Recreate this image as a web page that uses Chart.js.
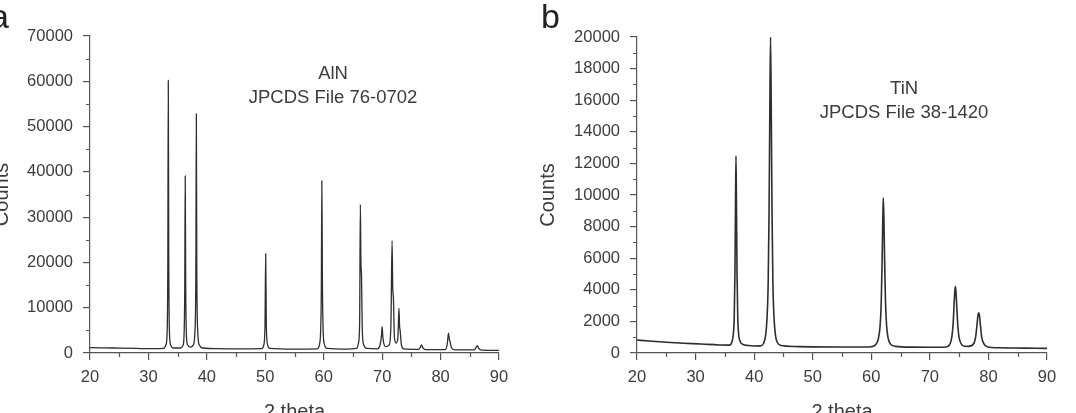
<!DOCTYPE html>
<html lang="en">
<head>
  <meta charset="UTF-8">
  <title>XRD AlN / TiN</title>
  <script src="https://cdn.jsdelivr.net/npm/chart.js"></script>
  <style>
    html, body {
      margin: 0;
      padding: 0;
      width: 1076px;
      height: 413px;
      overflow: hidden;
      background: #fff;
    }
    .panel {
      position: absolute;
      top: 0;
    }
    #leftPanel { left: -10px; }
    #rightPanel { left: 536px; }
  </style>
</head>
<body>
<div class="panel" id="leftPanel"><canvas id="alnChart" width="548" height="424"></canvas></div>
<div class="panel" id="rightPanel"><canvas id="tinChart" width="540" height="424"></canvas></div>

<script>
  // values
  const xTicks = [20, 30, 40, 50, 60, 70, 80, 90];
  const xMinorTicks = [25, 35, 45, 55, 65, 75, 85];
  const alnYTicks = [0, 10000, 20000, 30000, 40000, 50000, 60000, 70000];
  const alnYMinor = [5000, 15000, 25000, 35000, 45000, 55000, 65000];
  const tinYTicks = [0, 2000, 4000, 6000, 8000, 10000, 12000, 14000, 16000, 18000, 20000];
  const tinYMinor = [1000, 3000, 5000, 7000, 9000, 11000, 13000, 15000, 17000, 19000];

  // AlN pattern (2 theta / counts)
  const alnTheta = [
    20, 24, 28, 31, 32.6,
    33.0, 33.2, 33.32, 33.4, 33.48, 33.6, 33.8, 34.3,
    35.5, 35.9, 36.1, 36.22, 36.3, 36.38, 36.5, 36.7, 37.2,
    37.7, 37.95, 38.12, 38.2, 38.28, 38.45, 38.7, 39.3,
    42, 46,
    49.4, 49.75, 49.95, 50.07, 50.18, 50.4, 50.8,
    55,
    58.9, 59.3, 59.5, 59.6, 59.68, 59.78, 59.9, 60.1, 60.6,
    64,
    65.6, 65.95, 66.15, 66.27, 66.37, 66.47, 66.6, 66.85, 67.4,
    69.2, 69.65, 69.9, 70.0, 70.12, 70.3, 70.6,
    71.2, 71.5, 71.7, 71.82, 71.92, 72.1, 72.4,
    72.7, 72.88, 72.98, 73.08, 73.3, 73.7,
    76.2, 76.55, 76.75, 76.95, 77.4,
    80.8, 81.15, 81.35, 81.5, 81.6, 81.85, 82.4,
    85.8, 86.1, 86.3, 86.55, 87.0, 90
  ];
  const alnCounts = [
    1200, 1100, 1000, 950, 1000,
    1800, 4500, 20000, 60200, 20000, 4500, 1800, 1100,
    1100, 1600, 4000, 15000, 39100, 15000, 4000, 1800, 1300,
    1800, 4500, 18000, 52800, 18000, 4500, 1800, 1100,
    950, 900,
    950, 1800, 6000, 21900, 6000, 1800, 1000,
    850,
    900, 2000, 6000, 15000, 38000, 15000, 5000, 2000, 1000,
    850,
    1000, 2200, 7000, 32800, 20000, 17000, 5000, 1800, 1000,
    900, 1800, 4000, 5800, 3500, 2000, 1400,
    1800, 6000, 24800, 14000, 12500, 3500, 2200,
    3500, 9900, 6000, 5000, 1800, 900,
    800, 1300, 1800, 1200, 750,
    750, 2000, 4400, 3000, 2600, 1200, 700,
    700, 1300, 1600, 1000, 650, 600
  ];

  // TiN pattern (2 theta / counts)
  const tinTheta = [
    20, 22, 25, 28, 31, 34, 35.8,
    36.2, 36.45, 36.6, 36.72, 36.82, 36.9, 36.98, 37.08, 37.2, 37.35, 37.6, 38.0,
    39.0, 40.0, 41.0,
    41.6, 41.95, 42.2, 42.4, 42.55, 42.68, 42.8, 42.92, 43.05, 43.2, 43.4, 43.65, 44.0, 44.6,
    47, 50, 54, 58, 60.0,
    60.8, 61.2, 61.5, 61.7, 61.85, 61.97, 62.05, 62.15, 62.28, 62.43, 62.62, 62.9, 63.3, 64.2,
    67, 70, 72.8,
    73.4, 73.75, 73.98, 74.15, 74.28, 74.35, 74.45, 74.6, 74.78, 75.0, 75.4, 75.9,
    76.6, 77.5, 77.85, 78.05, 78.22, 78.35, 78.48, 78.65, 78.85, 79.2, 79.8,
    82, 86, 90
  ];
  const tinCounts = [
    820, 760, 680, 620, 570, 510, 500,
    700, 1200, 2300, 5000, 9500, 12470, 9500, 5000, 2300, 1200, 750, 560,
    470, 440, 450,
    600, 1100, 2200, 4500, 9000, 15500, 20000, 15500, 9000, 4500, 2200, 1100, 650, 470,
    410, 390, 380, 380, 400,
    550, 900, 1700, 3200, 5800, 8600, 9830, 8600, 5800, 3200, 1700, 900, 550, 420,
    370, 360, 380,
    550, 1000, 1900, 3200, 4000, 4200, 3900, 2900, 1700, 950, 550, 430,
    420, 600, 1100, 1800, 2400, 2550, 2350, 1700, 1000, 600, 400,
    330, 310, 290
  ];

  const FONT = "'Liberation Sans', Arial, Helvetica, sans-serif";
  const TEXT_COLOR = '#3c3c3c';
  const AXIS_COLOR = '#555';

  Chart.defaults.font.family = FONT;
  Chart.defaults.color = TEXT_COLOR;

  function toPoints(xs, ys) {
    const n = Math.min(xs.length, ys.length);
    const pts = [];
    for (let i = 0; i < n; i++) pts.push({ x: xs[i], y: ys[i] });
    return pts;
  }

  // short ticks between the labelled ones
  const minorTicksPlugin = {
    id: 'minorTicks',
    afterDraw(chart, args, opts) {
      const ctx = chart.ctx;
      const xs = chart.scales.x;
      const ys = chart.scales.y;
      ctx.save();
      ctx.strokeStyle = AXIS_COLOR;
      ctx.lineWidth = 1.2;
      ctx.beginPath();
      (opts.x || []).forEach(v => {
        const px = Math.round(xs.getPixelForValue(v)) + 0.5;
        ctx.moveTo(px, xs.top);
        ctx.lineTo(px, xs.top + 4);
      });
      (opts.y || []).forEach(v => {
        const py = Math.round(ys.getPixelForValue(v)) + 0.5;
        ctx.moveTo(ys.right - 4, py);
        ctx.lineTo(ys.right, py);
      });
      ctx.stroke();
      ctx.restore();
    }
  };

  // phase label inside the plot + panel letter
  const labelsPlugin = {
    id: 'labels',
    afterDraw(chart, args, opts) {
      const ctx = chart.ctx;
      const xs = chart.scales.x;
      const ys = chart.scales.y;
      ctx.save();
      ctx.fillStyle = TEXT_COLOR;
      ctx.textAlign = 'center';
      ctx.textBaseline = 'middle';
      ctx.font = '18.5px ' + FONT;
      const cx = xs.getPixelForValue(opts.at[0]);
      const cy = ys.getPixelForValue(opts.at[1]);
      opts.lines.forEach((t, i) => ctx.fillText(t, cx, cy + i * 24));

      ctx.font = '34px ' + FONT;
      ctx.fillStyle = '#222';
      ctx.textAlign = opts.letterAlign;
      ctx.textBaseline = 'alphabetic';
      ctx.fillText(opts.letter, opts.letterPos[0], opts.letterPos[1]);
      ctx.restore();
    }
  };

  function makeChart(id, theta, counts, yTicks, yMinor, yMax, yWidth, pad, lineW, labels) {
    const ctx = document.getElementById(id).getContext('2d');
    return new Chart(ctx, {
      type: 'scatter',
      data: {
        datasets: [{
          data: toPoints(theta, counts),
          showLine: true,
          borderColor: '#2e2e2e',
          borderWidth: lineW,
          pointRadius: 0,
          cubicInterpolationMode: 'monotone'
        }]
      },
      options: {
        responsive: false,
        animation: false,
        layout: { padding: pad },
        scales: {
          x: {
            type: 'linear',
            min: 20,
            max: 90,
            afterBuildTicks: s => { s.ticks = xTicks.map(v => ({ value: v })); },
            afterFit: s => { s.height = 71; },
            grid: { drawOnChartArea: false, tickLength: 7, color: AXIS_COLOR, lineWidth: 1.2 },
            border: { display: true, color: AXIS_COLOR, width: 1.2 },
            ticks: { font: { size: 16.5 }, padding: 8, maxRotation: 0, callback: v => String(v) },
            title: { display: true, text: '2 theta', font: { size: 20 }, padding: { top: 0, bottom: 0 } }
          },
          y: {
            type: 'linear',
            min: 0,
            max: yMax,
            afterBuildTicks: s => { s.ticks = yTicks.map(v => ({ value: v })); },
            afterFit: s => { s.width = yWidth; },
            grid: { drawOnChartArea: false, tickLength: 7, color: AXIS_COLOR, lineWidth: 1.2 },
            border: { display: true, color: AXIS_COLOR, width: 1.2 },
            ticks: { font: { size: 16.5 }, padding: 10, callback: v => String(v) },
            title: { display: true, text: 'Counts', font: { size: 20 }, padding: { top: 0, bottom: 0 } }
          }
        },
        plugins: {
          legend: { display: false },
          tooltip: { enabled: false },
          minorTicks: { x: xMinorTicks, y: yMinor },
          labels: labels
        }
      },
      plugins: [minorTicksPlugin, labelsPlugin]
    });
  }

  makeChart('alnChart', alnTheta, alnCounts, alnYTicks, alnYMinor, 70000, 100,
    { left: 0, right: 39, top: 36, bottom: 0 }, 1.3,
    { at: [61.6, 61600], lines: ['AlN', 'JPCDS File 76-0702'], letter: 'a', letterAlign: 'right', letterPos: [19, 28] });

  makeChart('tinChart', tinTheta, tinCounts, tinYTicks, tinYMinor, 20000, 101,
    { left: 0, right: 29, top: 37, bottom: 0 }, 1.6,
    { at: [65.6, 16700], lines: ['TiN', 'JPCDS File 38-1420'], letter: 'b', letterAlign: 'left', letterPos: [5, 28] });
</script>
</body>
</html>
